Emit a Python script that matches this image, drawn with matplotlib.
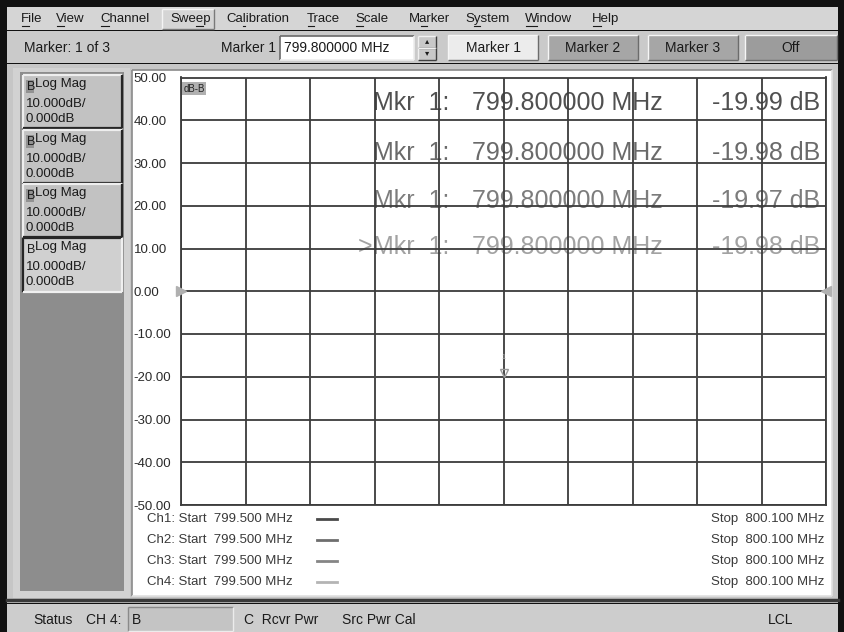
import matplotlib
matplotlib.use("Agg")
import matplotlib.pyplot as plt
import matplotlib.transforms as mtransforms
from matplotlib.patches import Rectangle
import numpy as np

# ---- data ----
channels = ["Ch1", "Ch2", "Ch3", "Ch4"]
start_mhz = [799.500, 799.500, 799.500, 799.500]
stop_mhz = [800.100, 800.100, 800.100, 800.100]
marker_mhz = 799.800000
marker_db = [-19.99, -19.98, -19.97, -19.98]
trace_colors = ["#4a4a4a", "#6e6e6e", "#858585", "#b4b4b4"]
readout_colors = ["#505050", "#6a6a6a", "#7c7c7c", "#a2a2a2"]

y_top, y_bottom, y_div = 50.0, -50.0, 10.0
scale_text = ["Log Mag", "10.000dB/", "0.000dB"]

menu_labels = ["File", "View", "Channel", "Sweep", "Calibration", "Trace",
               "Scale", "Marker", "System", "Window", "Help"]
menu_hotkey = [0, 0, 0, 3, 2, 0, 0, 1, 1, 0, 0]
marker_buttons = ["Marker 1", "Marker 2", "Marker 3", "Off"]

FONT = ["Liberation Sans", "DejaVu Sans"]
W, H = 844, 632

fig = plt.figure(figsize=(W / 100, H / 100), dpi=100)
bg = fig.add_axes([0, 0, 1, 1], zorder=0)
bg.set_xlim(0, W)
bg.set_ylim(H, 0)
bg.axis("off")


def rect(x0, y0, x1, y1, fc, ec="none", lw=0, z=1):
    bg.add_patch(Rectangle((x0, y0), x1 - x0, y1 - y0, facecolor=fc,
                           edgecolor=ec, linewidth=lw, zorder=z))


def bevel(x0, y0, x1, y1, light, dark, lw=1.2, z=2):
    bg.plot([x0, x1], [y0, y0], color=light, lw=lw, zorder=z, solid_capstyle="butt")
    bg.plot([x0, x0], [y0, y1], color=light, lw=lw, zorder=z, solid_capstyle="butt")
    bg.plot([x0, x1], [y1, y1], color=dark, lw=lw, zorder=z, solid_capstyle="butt")
    bg.plot([x1, x1], [y0, y1], color=dark, lw=lw, zorder=z, solid_capstyle="butt")


def txt(x, y, s, size=9.5, color="#1a1a1a", ha="left", va="center", z=3, **kw):
    return bg.text(x, y, s, fontsize=size, color=color, ha=ha, va=va,
                   family=FONT, zorder=z, **kw)


# window chrome
rect(0, 0, W, H, "#111111", z=0)
rect(7, 7, 838, 30, "#d5d5d5")              # menu bar
rect(7, 31, 838, 63, "#cacaca")             # toolbar
rect(7, 64, 838, 603, "#c6c6c6")            # main frame
rect(13, 68, 130, 598, "#d2d2d2")
rect(20, 72, 124, 591, "#8d8d8d")           # channel panel
rect(132, 70, 832, 596, "#ffffff")          # display panel
bevel(132, 70, 832, 596, "#8a8a8a", "#e0e0e0")
bg.plot([7, 838], [600, 600], color="#3a3a3a", lw=2.5, zorder=2)
rect(7, 604, 838, H, "#cdcdcd")             # status bar

# menu
renderer = fig.canvas.get_renderer()
menu_x = [21, 56, 100, 170, 226, 307, 355, 409, 465, 525, 592]
for lab, x, k in zip(menu_labels, menu_x, menu_hotkey):
    t = txt(x, 19, lab, size=9.5)
    pre = txt(x, 19, lab[:k], size=9.5)
    upto = txt(x, 19, lab[:k + 1], size=9.5)
    x0 = bg.transData.inverted().transform(pre.get_window_extent(renderer))[1][0] if k else x
    x1 = bg.transData.inverted().transform(upto.get_window_extent(renderer))[1][0]
    pre.remove()
    upto.remove()
    bg.plot([x0 + 0.5, x1 - 0.5], [26, 26], color="#1a1a1a", lw=0.8, zorder=3)
bevel(162, 9, 214, 29, "#f4f4f4", "#7a7a7a", lw=1.0)

# toolbar
txt(24, 48, "Marker: 1 of 3", size=10)
txt(221, 48, "Marker 1", size=10)
rect(280, 36, 414, 60, "#ffffff")
bevel(280, 36, 414, 60, "#6a6a6a", "#eeeeee")
txt(284, 48, "%.6f MHz" % marker_mhz, size=10)
rect(418, 36, 436, 60, "#c8c8c8")
bevel(418, 36, 436, 48, "#f0f0f0", "#404040", lw=1.0)
bevel(418, 48, 436, 60, "#f0f0f0", "#404040", lw=1.0)
txt(427, 42, "\u25b4", size=6, ha="center")
txt(427, 54, "\u25be", size=6, ha="center")
btn_x = [(448, 538), (548, 638), (648, 738), (745, 837)]
btn_fc = ["#ececec", "#a6a6a6", "#a6a6a6", "#9c9c9c"]
for lab, (x0, x1), fc in zip(marker_buttons, btn_x, btn_fc):
    rect(x0, 35, x1, 60, fc)
    bevel(x0, 35, x1, 60, "#f6f6f6", "#6c6c6c", lw=1.0)
    txt((x0 + x1) / 2, 48, lab, size=10, ha="center")

# channel boxes on the left
box_y = [(75, 128), (130, 183), (184, 237), (238, 292)]
for i, (y0, y1) in enumerate(box_y):
    active = i == len(box_y) - 1
    rect(23, y0, 122, y1, "#d0d0d0" if active else "#c2c2c2")
    if active:
        bevel(23, y0, 122, y1, "#262626", "#f0f0f0", lw=1.6)
    else:
        bevel(23, y0, 122, y1, "#eeeeee", "#262626", lw=1.6)
        rect(25.5, y0 + 5, 34, y0 + 18, "#929292", z=2)
    txt(26.5, y0 + 12, "B", size=9)
    txt(35, y0 + 9, scale_text[0], size=9.5)
    txt(26, y0 + 29, scale_text[1], size=9.5)
    txt(25, y0 + 44, scale_text[2], size=9.5)

# marker readouts (drawn under the graticule)
readout_base = [110, 160, 208, 254]
for i, (db, col, yb) in enumerate(zip(marker_db, readout_colors, readout_base)):
    prefix = ">" if i == len(marker_db) - 1 else ""
    txt(373, yb, "Mkr  1:", size=18, color=col, va="baseline")
    if prefix:
        txt(372, yb, prefix, size=18, color=col, va="baseline", ha="right")
    txt(472, yb, "%.6f MHz" % marker_mhz, size=18, color=col, va="baseline")
    txt(820, yb, "%.2f dB" % db, size=18, color=col, va="baseline", ha="right")

# channel start / stop lines
row_y = [519, 540, 561, 582]
for ch, f0, f1, col, yy in zip(channels, start_mhz, stop_mhz, trace_colors, row_y):
    txt(147, yy, "%s: Start  %.3f MHz" % (ch, f0), size=9.5, color="#3a3a3a")
    bg.plot([317, 337], [yy, yy], color=col, lw=2.0, zorder=3)
    txt(824, yy, "Stop  %.3f MHz" % f1, size=9.5, color="#3a3a3a", ha="right")

# status bar
txt(33, 620, "Status", size=10)
txt(86, 620, "CH 4:", size=10)
rect(128, 607, 233, 631, "#c4c4c4")
bevel(128, 607, 233, 631, "#8a8a8a", "#ececec", lw=1.0)
txt(132, 620, "B", size=10)
txt(244, 620, "C  Rcvr Pwr", size=10)
txt(342, 620, "Src Pwr Cal", size=10)
txt(768, 620, "LCL", size=10)

# graticule
ax = fig.add_axes([181 / W, (H - 505) / H, 645 / W, 427.5 / H], zorder=2)
ax.set_facecolor("none")
ax.set_xlim(start_mhz[0], stop_mhz[0])
ax.set_ylim(y_bottom, y_top)
ax.set_xticks(np.linspace(start_mhz[0], stop_mhz[0], 11))
yt = np.arange(y_bottom, y_top + 1, y_div)
ax.set_yticks(yt)
ax.set_yticklabels(["%.2f" % v for v in yt], family=FONT, fontsize=9.5, color="#2a2a2a",
                   ha="left")
ax.tick_params(length=0, labelbottom=False, pad=34)
ax.grid(True, color="#3c3c3c", lw=1.3)
for s in ax.spines.values():
    s.set_color("#3c3c3c")
    s.set_linewidth(1.3)

# traces: lightest first so channel 1 ends up on top
for db, col in reversed(list(zip(marker_db, trace_colors))):
    ax.plot([start_mhz[0], stop_mhz[0]], [db, db], color=col, lw=1.4, zorder=3)

up = mtransforms.offset_copy(ax.transData, fig=fig, x=0, y=4, units="dots")
ax.plot([marker_mhz], [marker_db[-1]], marker="v", ms=6, mfc="none", mec="#9a9a9a",
        mew=1.0, transform=up, zorder=4, clip_on=False)
ax.text(marker_mhz, marker_db[-1] + 4.5, "1", fontsize=5, color="#b0b0b0",
        ha="center", va="center", family=FONT)
ax.plot([start_mhz[0]], [0], marker=">", ms=7, color="#b0b0b0", clip_on=False, zorder=4)
ax.plot([stop_mhz[0]], [0], marker="<", ms=7, color="#b0b0b0", clip_on=False, zorder=4)
ax.text(0.004, 0.985, "dB-B", transform=ax.transAxes, fontsize=7, color="#222222",
        ha="left", va="top", family=FONT,
        bbox=dict(boxstyle="square,pad=0.15", fc="#b0b0b0", ec="none"))

fig.savefig("out.png", dpi=100)
